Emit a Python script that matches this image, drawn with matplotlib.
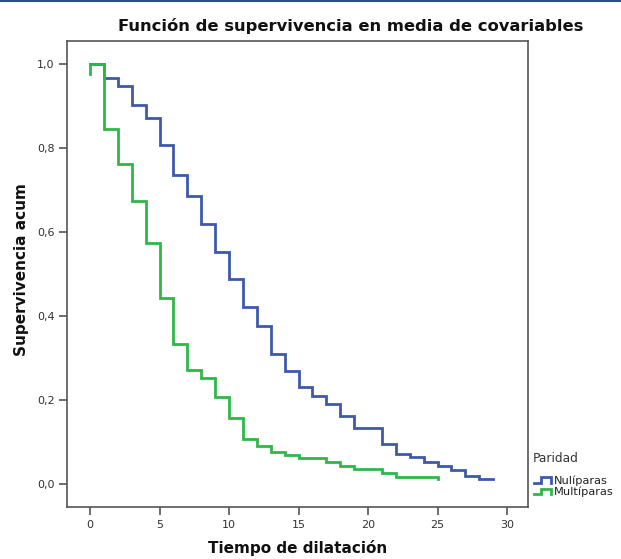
import matplotlib
matplotlib.use("Agg")
import matplotlib.pyplot as plt
from matplotlib.legend_handler import HandlerBase
from matplotlib.lines import Line2D

# Data
nul_t = [0, 1, 2, 3, 4, 5, 6, 7, 8, 9, 10, 11, 12, 13, 14, 15, 16, 17, 18, 19,
         21, 22, 23, 24, 25, 26, 27, 28, 29]
nul_s = [1.0, 0.968, 0.948, 0.903, 0.871, 0.807, 0.737, 0.686, 0.618, 0.552,
         0.489, 0.422, 0.377, 0.310, 0.270, 0.232, 0.210, 0.191, 0.161, 0.134,
         0.095, 0.071, 0.065, 0.053, 0.044, 0.033, 0.019, 0.012, 0.012]
mul_t = [0, 0, 1, 2, 3, 4, 5, 6, 7, 8, 9, 10, 11, 12, 13, 14, 15, 17, 18, 19,
         21, 22, 25]
mul_s = [0.976, 1.0, 0.845, 0.761, 0.674, 0.574, 0.443, 0.333, 0.272, 0.253,
         0.207, 0.156, 0.107, 0.091, 0.077, 0.069, 0.063, 0.053, 0.044, 0.036,
         0.027, 0.017, 0.012]
series_names = ["Nulíparas", "Multíparas"]
legend_title = "Paridad"
colors = ["#3E58AC", "#2EB848"]
xticks = [0, 5, 10, 15, 20, 25, 30]
yticks = [0.0, 0.2, 0.4, 0.6, 0.8, 1.0]
ytick_labels = ["0,0", "0,2", "0,4", "0,6", "0,8", "1,0"]

W, H = 621, 559
fig = plt.figure(figsize=(W / 100, H / 100), dpi=100)
ax = fig.add_axes([67 / W, 1 - 507 / H, (528 - 67) / W, (507 - 41) / H])

ax.step(nul_t, nul_s, where="post", color=colors[0], lw=2.0,
        solid_joinstyle="miter", label=series_names[0])
ax.step(mul_t, mul_s, where="post", color=colors[1], lw=2.0,
        solid_joinstyle="miter", label=series_names[1])

ax.set_xlim(-1.655, 31.51)
ax.set_ylim(-0.0548, 1.055)
ax.set_xticks(xticks)
ax.set_xticklabels([str(x) for x in xticks])
ax.set_yticks(yticks)
ax.set_yticklabels(ytick_labels)

spine_col = "#555555"
for s in ax.spines.values():
    s.set_color(spine_col)
    s.set_linewidth(1.2)
ax.tick_params(axis="both", colors=spine_col, labelcolor="#333333",
               labelsize=8, length=6, width=1.2, direction="out", pad=3)

fig.text(298 / W, 1 - 548 / H, "Tiempo de dilatación", ha="center", va="center",
         fontsize=11, fontweight="bold", color="#111111")
fig.text(22 / W, 1 - 270 / H, "Supervivencia acum", ha="center", va="center",
         rotation=90, fontsize=11, fontweight="bold", color="#111111")
fig.text(351 / W, 1 - 26 / H, "Función de supervivencia en media de covariables",
         ha="center", va="center", fontsize=11.8, fontweight="bold", color="#111111")


class StepHandler(HandlerBase):
    def create_artists(self, legend, orig_handle, xdescent, ydescent, width,
                       height, fontsize, trans):
        x0 = -xdescent
        y0 = -ydescent
        xs = [x0, x0 + width * 0.35, x0 + width * 0.35, x0 + width * 0.9, x0 + width * 0.9]
        ys = [y0 + height * 0.1, y0 + height * 0.1, y0 + height * 0.9,
              y0 + height * 0.9, y0 + height * 0.15]
        ln = Line2D(xs, ys, color=orig_handle.get_color(), lw=2.0,
                    solid_joinstyle="miter", transform=trans)
        return [ln]


handles = [Line2D([], [], color=c) for c in colors]
leg = fig.legend(handles, series_names,
                 handler_map={Line2D: StepHandler()},
                 loc="center left", bbox_to_anchor=(534 / W, 1 - 486.5 / H),
                 frameon=False, fontsize=8.2,
                 handlelength=1.7, handleheight=0.6, handletextpad=0.05,
                 labelspacing=0.08, borderpad=0, borderaxespad=0)
for t in leg.get_texts():
    t.set_color("#222222")
fig.text(556 / W, 1 - 458 / H, legend_title, ha="center", va="center",
         fontsize=8.8, color="#333333")

# top window border
fig.add_artist(Line2D([0, 1], [1 - 1 / H, 1 - 1 / H], transform=fig.transFigure,
                      color="#2B4C8C", lw=1.5))

fig.savefig("out.png", dpi=100)
